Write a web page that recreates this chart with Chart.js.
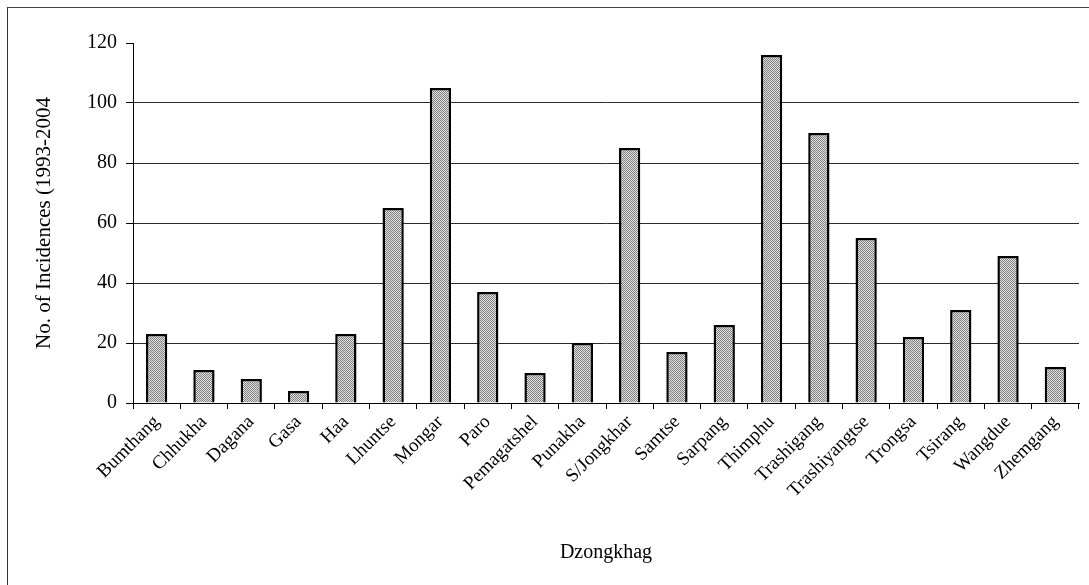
<!DOCTYPE html>
<html>
<head>
<meta charset="utf-8">
<title>Incidences by Dzongkhag</title>
<script src="https://cdn.jsdelivr.net/npm/chart.js"></script>
<style>
  html, body { margin: 0; padding: 0; background: #fff; overflow: hidden; }
  #wrap { position: relative; width: 1089px; height: 585px; }
  #frame { position: absolute; left: 7px; top: 7px; width: 1100px; height: 600px;
           border-left: 1px solid #333; border-top: 1px solid #444; box-sizing: border-box; }
  canvas { position: absolute; left: 0; top: 0; }
</style>
</head>
<body>
<div id="wrap">
  <div id="frame"></div>
  <canvas id="chart" width="1089" height="585"></canvas>
</div>
<script>
const dzongkhags = ['Bumthang', 'Chhukha', 'Dagana', 'Gasa', 'Haa', 'Lhuntse', 'Mongar', 'Paro',
  'Pemagatshel', 'Punakha', 'S/Jongkhar', 'Samtse', 'Sarpang', 'Thimphu', 'Trashigang',
  'Trashiyangtse', 'Trongsa', 'Tsirang', 'Wangdue', 'Zhemgang'];
const incidences = [23, 11, 8, 4, 23, 65, 105, 37, 10, 20, 85, 17, 26, 116, 90, 55, 22, 31, 49, 12];
const yTicks = [0, 20, 40, 60, 80, 100, 120];

const serif = 'Liberation Serif, Times New Roman, serif';

// small stippled tile used as the bar fill
function stipple() {
  const c = document.createElement('canvas');
  c.width = 4; c.height = 4;
  const g = c.getContext('2d');
  g.fillStyle = '#e0e0e0';
  g.fillRect(0, 0, 4, 4);
  g.fillStyle = '#808080';
  for (let y = 0; y < 4; y++) {
    for (let x = 0; x < 4; x++) {
      if ((x + y) % 2 === 0) g.fillRect(x, y, 1, 1);
    }
  }
  return g.createPattern(c, 'repeat');
}

const ctx = document.getElementById('chart').getContext('2d');
new Chart(ctx, {
  type: 'bar',
  data: {
    labels: dzongkhags,
    datasets: [{
      data: incidences,
      backgroundColor: stipple(),
      borderColor: '#000',
      borderWidth: 2.5,
      categoryPercentage: 1,
      barPercentage: 0.45
    }]
  },
  options: {
    responsive: false,
    animation: false,
    devicePixelRatio: 1,
    layout: { padding: { left: 28, top: 43, right: 10, bottom: 0 } },
    plugins: { legend: { display: false }, tooltip: { enabled: false } },
    scales: {
      x: {
        grid: { offset: true, drawOnChartArea: false, drawTicks: true, tickLength: 6, color: '#000' },
        border: { display: true, color: '#000', width: 1 },
        ticks: {
          autoSkip: false, maxRotation: 45, minRotation: 45, padding: 2,
          color: '#000', font: { family: serif, size: 19 }
        },
        title: {
          display: true, text: 'Dzongkhag', color: '#000',
          font: { family: serif, size: 20 }, padding: { top: 0, bottom: 20 }
        },
        afterFit: (scale) => { scale.height = 182; }
      },
      y: {
        min: 0, max: 120,
        afterBuildTicks: (scale) => { scale.ticks = yTicks.map(v => ({ value: v })); },
        grid: {
          color: (c) => (c.tick && c.tick.value === 120) ? 'rgba(0,0,0,0)' : '#2a2a2a',
          tickColor: '#000', tickLength: 7, lineWidth: 1
        },
        border: { display: true, color: '#000', width: 1 },
        ticks: { padding: 9, color: '#000', font: { family: serif, size: 20 } },
        title: {
          display: true, text: 'No. of Incidences (1993-2004', color: '#000',
          font: { family: serif, size: 21 }, padding: { top: 4, bottom: 0 }
        },
        afterFit: (scale) => { scale.width = 105; }
      }
    }
  }
});
</script>
</body>
</html>
